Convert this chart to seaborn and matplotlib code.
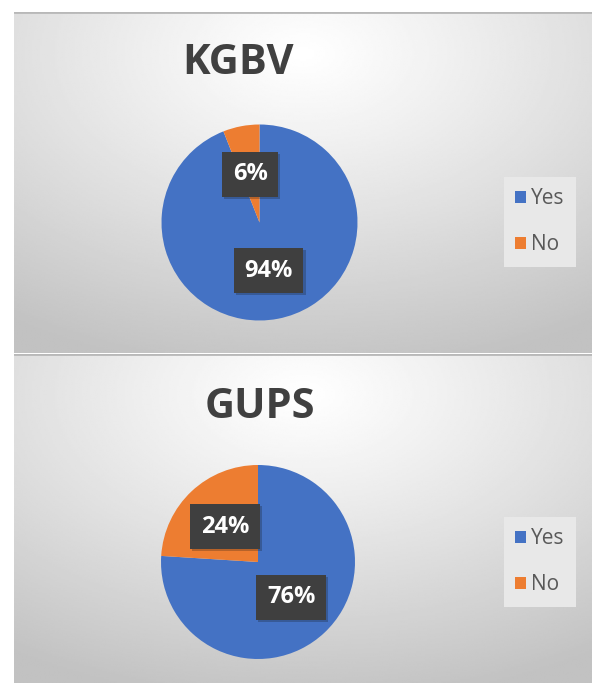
import numpy as np
import matplotlib.pyplot as plt
import matplotlib.patheffects as pe
import seaborn as sns

sns.set_theme(style="white")
plt.rcParams['font.family'] = ['Open Sans', 'DejaVu Sans']

# data
labels = ["Yes", "No"]
kgbv_values = [94, 6]
gups_values = [76, 24]
colors = ["#4472C4", "#ED7D31"]

W, H = 594, 683
fig = plt.figure(figsize=(W / 100, H / 100), dpi=100)
fig.patch.set_facecolor("white")


def px_axes(x0, y0, w, h):
    # box in pixels, y counted from the top
    return fig.add_axes([x0 / W, 1 - (y0 + h) / H, w / W, h / H])


def panel_bg(x0, y0, w, h):
    ax = px_axes(x0, y0, w, h)
    yy, xx = np.mgrid[0:1:200j, 0:1:300j]
    d = np.sqrt(((xx - 0.5) * 1.05) ** 2 + (yy - 0.12) ** 2)
    shade = 1 - 0.24 * np.clip(d / 0.95, 0, 1) ** 1.1
    ax.imshow(shade, cmap="gray", vmin=0, vmax=1, aspect="auto",
              extent=[0, 1, 1, 0], interpolation="bilinear")
    ax.axhline(0.0, color="#b8b8b8", lw=2)
    ax.set_axis_off()
    return ax


def draw_pie(values, title, cx, cy, r, title_xy, legend_xy):
    ax = px_axes(cx - r, cy - r, 2 * r, 2 * r)
    wedges, texts, autotexts = ax.pie(
        values, colors=colors, startangle=90, counterclock=False,
        autopct="%.0f%%", pctdistance=0.5,
        textprops=dict(color="white", fontsize=17, fontweight="bold"),
        wedgeprops=dict(linewidth=0))
    for t in autotexts:
        t.set_bbox(dict(boxstyle="square,pad=0.45", fc="#3f3f3f", ec="none"))
        t.get_bbox_patch().set_path_effects(
            [pe.SimplePatchShadow(offset=(1.5, -1.5), alpha=0.25), pe.Normal()])
    ax.set_xlim(-1, 1)
    ax.set_ylim(-1, 1)

    fig.text(title_xy[0] / W, 1 - title_xy[1] / H, title, ha="center",
             va="center", fontsize=30, fontweight="bold", color="#404040")

    leg = fig.legend(wedges, labels, loc="center",
                     bbox_to_anchor=(legend_xy[0] / W, 1 - legend_xy[1] / H),
                     fontsize=15, handlelength=0.5, handleheight=0.5,
                     handletextpad=0.25, labelspacing=1.2, borderpad=0.55,
                     frameon=True, fancybox=False, facecolor="#e8e8e8",
                     edgecolor="none", framealpha=1)
    for txt in leg.get_texts():
        txt.set_color("#595959")


panel_bg(14, 12, 578, 341)
panel_bg(14, 354, 578, 329)

draw_pie(kgbv_values, "KGBV", 259.5, 222.5, 98, (238, 64), (540, 222))
draw_pie(gups_values, "GUPS", 258, 562, 97, (260, 407), (540, 562))

fig.savefig("out.png", dpi=100)
